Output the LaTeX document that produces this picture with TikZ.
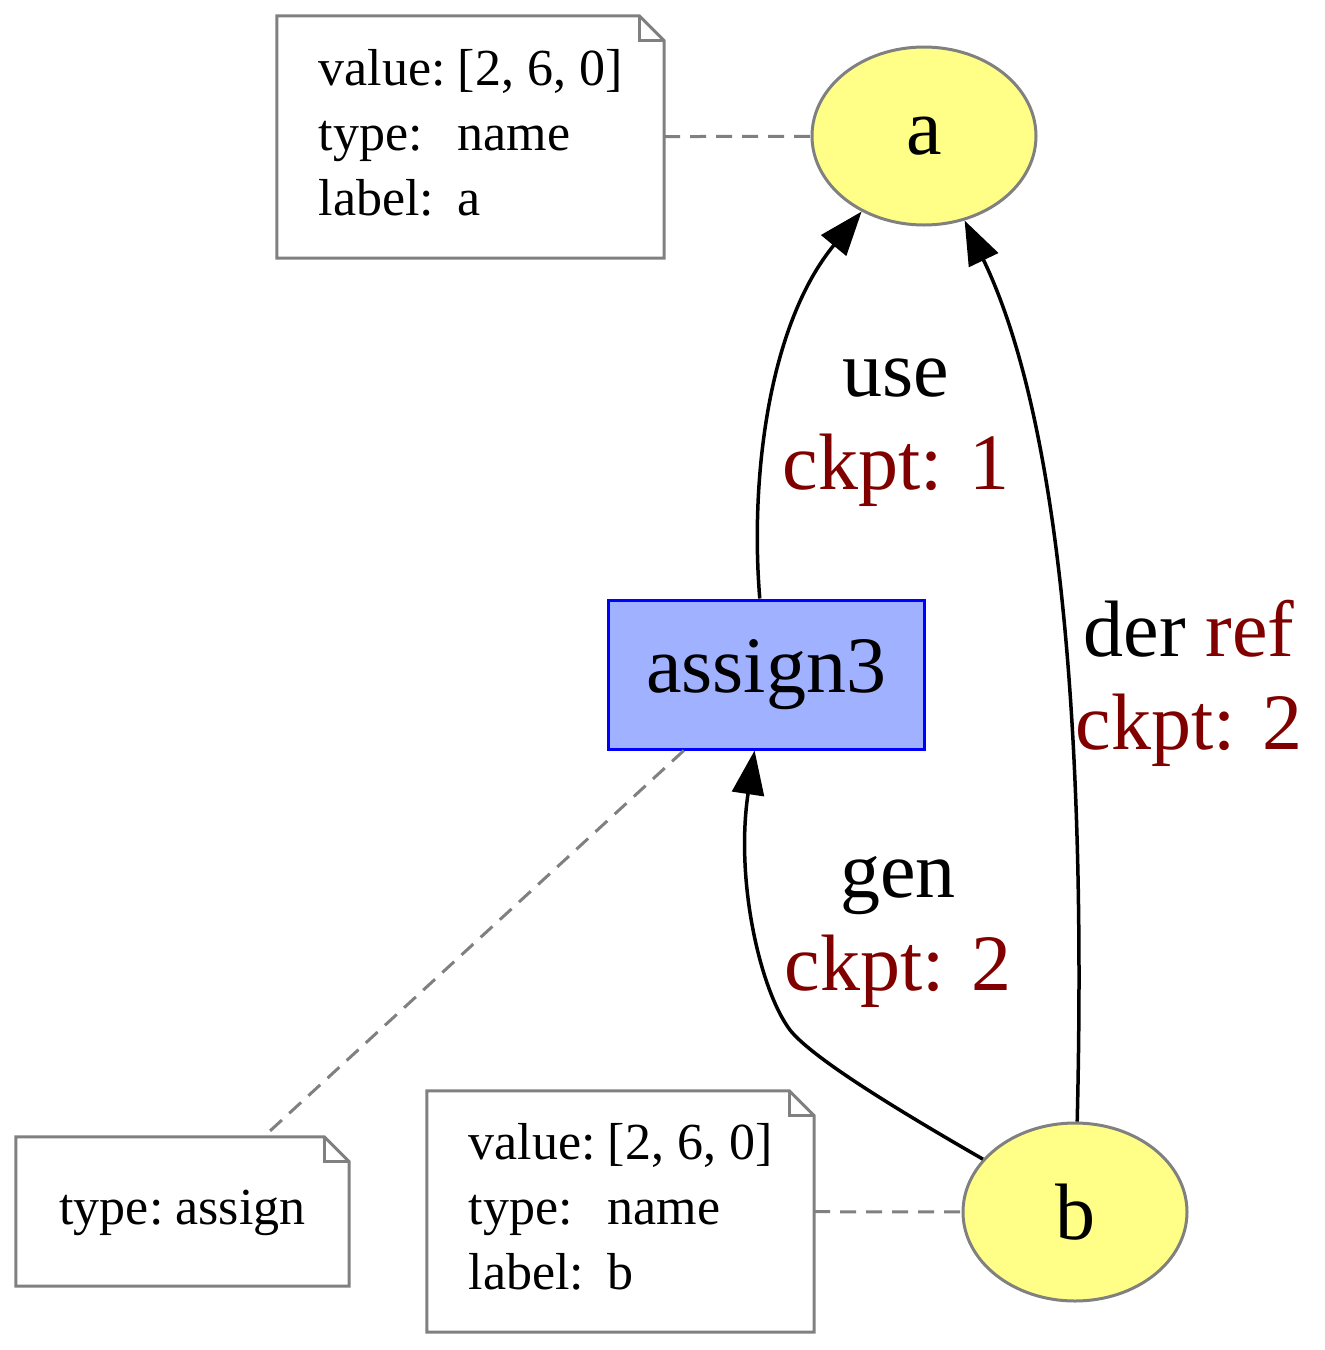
\documentclass[tikz,border=0pt]{standalone}
\usepackage{fontspec}
\setmainfont{Liberation Serif}
\usetikzlibrary{arrows.meta,shapes.geometric}
\definecolor{nodeyellow}{RGB}{255,255,136}
\definecolor{opblue}{RGB}{160,178,255}
\definecolor{ckptred}{RGB}{128,0,0}
\definecolor{notegray}{RGB}{128,128,128}

\begin{document}
\begin{tikzpicture}[x=1pt,y=-1pt,
    varnode/.style={ellipse,draw=notegray,fill=nodeyellow,line width=3pt,minimum width=224pt,minimum height=178pt,inner sep=0pt,font=\fontsize{80}{92}\selectfont},
    opnode/.style={rectangle,draw=blue,fill=opblue,line width=3pt,minimum width=316pt,minimum height=149pt,inner sep=0pt,font=\fontsize{80}{92}\selectfont},
    notenode/.style={rectangle,inner sep=0pt,font=\fontsize{52}{65}\selectfont},
    edgelabel/.style={align=center,inner sep=0pt,font=\fontsize{80}{93}\selectfont},
    dep/.style={line width=3.5pt,-{Triangle[length=44pt,width=32pt]}},
    link/.style={draw=notegray,line width=3pt,dash pattern=on 16pt off 10pt}]
  \useasboundingbox (0,0) rectangle (1325,1350);

  % graph nodes
  \node[varnode] (a) at (924,136) {a};
  \node[varnode] (b) at (1075,1212) {b};
  \node[opnode] (s3) at (766,674.5) {assign3};

  % notes
  \node[notenode,minimum width=387pt,minimum height=242pt] (na) at (470.5,137)
    {\begin{tabular}{@{}l@{\hspace{12pt}}l@{}}value: & [2, 6, 0]\\ type: & name\\ label: & a\end{tabular}};
  \node[notenode,minimum width=387pt,minimum height=241pt] (nb) at (620.5,1211.5)
    {\begin{tabular}{@{}l@{\hspace{12pt}}l@{}}value: & [2, 6, 0]\\ type: & name\\ label: & b\end{tabular}};
  \node[notenode,minimum width=333pt,minimum height=149pt] (nt) at (182.5,1211.5)
    {\begin{tabular}{@{}l@{\hspace{12pt}}l@{}}type: & assign\end{tabular}};
  \foreach \n in {na,nb,nt}{
    \draw[draw=notegray,line width=3pt] (\n.south west) -- (\n.north west) -- ([xshift=-25pt]\n.north east)
      -- ([yshift=-25pt]\n.north east) -- (\n.south east) -- cycle;
    \draw[draw=notegray,line width=3pt] ([xshift=-25pt]\n.north east) |- ([yshift=-25pt]\n.north east);
  }

  % note links
  \draw[link] (na) -- (a);
  \draw[link] (nb) -- (b);
  \draw[link] (s3) -- (nt);

  % edges
  \draw[dep] (s3) .. controls (750,480) and (768,325) .. (a);
  \draw[dep] (b) .. controls (1085,800) and (1070,440) .. (a);
  \draw[dep] (b) .. controls (880,1100) and (810,1055) .. (790,1030) .. controls (760,990) and (735,880) .. (s3);

  % edge labels
  \node[edgelabel] (luse) at (896,433) {use\\\textcolor{ckptred}{ckpt: 1}};
  \node[edgelabel] (lder) at (1189,683) {der \textcolor{ckptred}{ref}\\\textcolor{ckptred}{ckpt: 2}};
  \node[edgelabel] (lgen) at (898,932) {gen\\\textcolor{ckptred}{ckpt: 2}};
\end{tikzpicture}
\end{document}
